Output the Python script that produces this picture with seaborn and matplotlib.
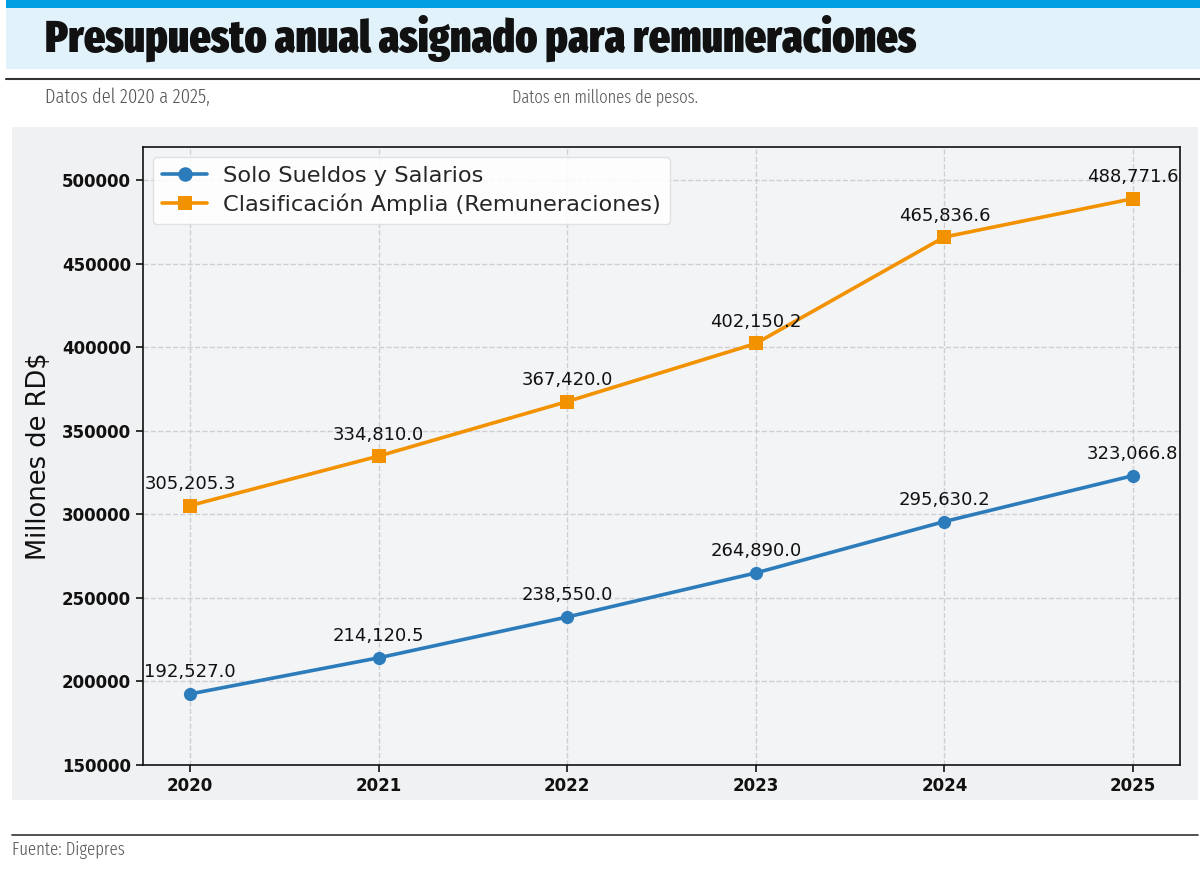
import matplotlib
matplotlib.use("Agg")
import matplotlib.pyplot as plt
import seaborn as sns
import pandas as pd
from matplotlib.patches import Rectangle
from matplotlib.lines import Line2D
from matplotlib.ticker import FixedLocator
from matplotlib import font_manager as fm

years = [2020, 2021, 2022, 2023, 2024, 2025]
sueldos = [192527.0, 214120.5, 238550.0, 264890.0, 295630.2, 323066.8]
amplia = [305205.3, 334810.0, 367420.0, 402150.2, 465836.6, 488771.6]
series_names = ["Solo Sueldos y Salarios", "Clasificación Amplia (Remuneraciones)"]
y_ticks = [150000, 200000, 250000, 300000, 350000, 400000, 450000, 500000]

title = "Presupuesto anual asignado para remuneraciones"
subtitle_left = "Datos del 2020 a 2025,"
subtitle_right = "Datos en millones de pesos."
source = "Fuente: Digepres"
ylabel = "Millones de RD$"

colors = ["#2c7cbc", "#f39200"]

df = pd.DataFrame({
    "Año": years * 2,
    "Valor": sueldos + amplia,
    "Serie": [series_names[0]] * len(years) + [series_names[1]] * len(years),
})

sns.set_theme(style="ticks")
plt.rcParams["font.family"] = ["DejaVu Sans"]


def weight_num(w):
    if isinstance(w, int):
        return w
    return {"ultralight": 200, "light": 300, "normal": 400, "regular": 400, "book": 400,
            "medium": 500, "semibold": 600, "demibold": 600, "bold": 700, "heavy": 800,
            "extra bold": 800, "black": 900}.get(str(w).lower(), 400)


def find_condensed(target_weight):
    cands = []
    for f in fm.fontManager.ttflist:
        nm = f.name.lower()
        fn = f.fname.lower()
        is_cond = ("condensed" in fn or "narrow" in fn or "condensed" in nm or "narrow" in nm
                   or str(f.stretch) in ("condensed", "semi-condensed", "extra-condensed"))
        if not is_cond:
            continue
        if "italic" in fn or "oblique" in fn or str(f.style) != "normal":
            continue
        extra = 0 if ("extracondensed" in fn.replace("-", "").replace("_", "")
                      or "extra-condensed" in str(f.stretch)) else 1
        score = (abs(weight_num(f.weight) - target_weight), extra)
        cands.append((score, f.fname))
    if cands:
        cands.sort()
        return fm.FontProperties(fname=cands[0][1])
    return fm.FontProperties(family="DejaVu Sans", weight="bold" if target_weight >= 600 else "normal")


title_fp = find_condensed(900)
sub_fp = find_condensed(300)

W, H = 1200, 869
fig = plt.figure(figsize=(W / 100, H / 100), dpi=100)
fig.patch.set_facecolor("white")


def fx(px):
    return px / W


def fy(py):
    return 1 - py / H


fig.patches.append(Rectangle((fx(6), fy(8)), fx(1200) - fx(6), 8 / H, transform=fig.transFigure,
                             facecolor="#009fe3", edgecolor="none", zorder=-10))
fig.patches.append(Rectangle((fx(6), fy(69)), fx(1200) - fx(6), 61 / H, transform=fig.transFigure,
                             facecolor="#e1f2fb", edgecolor="none", zorder=-10))
fig.lines.append(Line2D([fx(6), fx(1200)], [fy(79), fy(79)], transform=fig.transFigure,
                        color="#333333", linewidth=1.5, zorder=-5))
fig.patches.append(Rectangle((fx(12), fy(800)), fx(1198) - fx(12), (800 - 127) / H, transform=fig.transFigure,
                             facecolor="#f0f1f2", edgecolor="none", zorder=-10))
fig.lines.append(Line2D([fx(12), fx(1198)], [fy(835), fy(835)], transform=fig.transFigure,
                        color="#333333", linewidth=1.2, zorder=-5))


def fitted_text(xpx, ypx, s, fp, target_w, max_size, color):
    t = fig.text(fx(xpx), fy(ypx), s, fontproperties=fp.copy(), color=color, va="center", ha="left")
    t.set_fontsize(max_size)
    r = fig.canvas.get_renderer()
    w = t.get_window_extent(r).width
    if w > target_w:
        t.set_fontsize(max_size * target_w / w)
    return t


t = fitted_text(45, 38, title, title_fp, 870, 34, "#111111")
if title_fp.get_file() is None:
    t.set_fontweight("bold")
fitted_text(45, 97, subtitle_left, sub_fp, 165, 17, "#555555")
fitted_text(512, 97, subtitle_right, sub_fp, 186, 17, "#555555")
fitted_text(12, 850, source, sub_fp, 113, 17, "#555555")

ax = fig.add_axes([fx(143), fy(765), fx(1180) - fx(143), (765 - 147) / H])
ax.set_facecolor("#f3f4f6")

sns.lineplot(data=df, x="Año", y="Valor", hue="Serie", style="Serie", markers=["o", "s"],
             dashes=False, palette=colors, linewidth=2.6, markersize=9.5, markeredgewidth=0,
             ax=ax, zorder=3)

for vals in (sueldos, amplia):
    for x, v in zip(years, vals):
        ax.annotate(f"{v:,.1f}", (x, v), textcoords="offset points", xytext=(0, 9),
                    ha="center", va="bottom", fontsize=13, color="#111111", zorder=4)

ax.set_xlim(2019.75, 2025.25)
ax.set_ylim(150000, 519700)
ax.xaxis.set_major_locator(FixedLocator(years))
ax.yaxis.set_major_locator(FixedLocator(y_ticks))
ax.set_xticklabels([str(y) for y in years])
ax.set_yticklabels([str(t) for t in y_ticks])
ax.tick_params(axis="both", labelsize=12, length=5, width=1.2, color="#111111", labelcolor="#111111")
for lab in ax.get_xticklabels() + ax.get_yticklabels():
    lab.set_fontweight("bold")
ax.grid(True, linestyle="--", color="#cfcfd3", linewidth=1.0)
ax.set_axisbelow(True)
for sp in ax.spines.values():
    sp.set_visible(True)
    sp.set_color("#111111")
    sp.set_linewidth(1.2)
ax.set_xlabel("")
ax.set_ylabel(ylabel, fontsize=18.5, color="#111111", labelpad=7)

handles, labels = ax.get_legend_handles_labels()
leg = ax.legend(handles=handles, labels=labels, loc="upper left", fontsize=16.2, frameon=True,
                borderpad=0.42, handlelength=2.0, handletextpad=0.7, labelspacing=0.3,
                borderaxespad=0, bbox_to_anchor=(0.0096, 0.984), markerscale=1.1)
leg.get_frame().set_facecolor("white")
leg.get_frame().set_alpha(0.85)
leg.get_frame().set_edgecolor("#dddddd")

fig.savefig("out.png", dpi=100, facecolor=fig.get_facecolor())
